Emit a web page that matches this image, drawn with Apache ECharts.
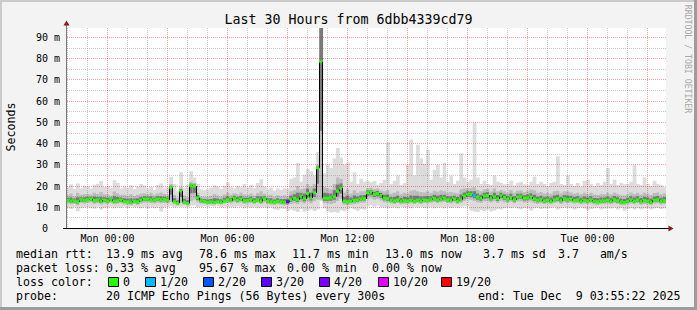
<!DOCTYPE html>
<html><head><meta charset="utf-8">
<script src="https://cdn.jsdelivr.net/npm/echarts@6/dist/echarts.min.js"></script>
<style>html,body{margin:0;padding:0;background:#f3f3f3;}#c{width:697px;height:310px;}</style>
</head><body><div id="c"></div><script>
// time axis: hours since graph start (Sun 21:55:22), 10-minute steps
const STEP_H = 1 / 6;
const medianMs = [
 13.2,12.8,13.0,12.6,13.5,13.3, 13.6,13.9,13.2,13.5,12.8,13.4,
 13.0,13.6,12.9,13.1,13.4,12.7, 12.6,12.4,12.9,12.5,13.3,13.8,
 13.9,13.6,13.4,13.8,13.5,13.7, 13.4,19.2,12.6,11.9,17.7,12.4,
 11.8,20.2,20.0,14.5,13.0,12.8, 12.4,12.5,12.3,12.6,12.4,13.0,
 13.6,13.2,14.2,13.4,13.8,13.1, 13.2,13.5,12.9,13.6,12.8,14.0,
 13.0,12.6,12.4,12.8,12.5,12.3, 12.6,13.5,14.2,13.6,15.2,14.0,
 16.5,14.4,16.8,28.6,78.6,14.2, 14.3,14.5,15.0,17.5,19.0,12.8,
 12.6,12.7,13.2,13.4,13.8,14.0, 16.8,17.2,16.0,16.5,15.6,14.2,
 14.0,13.2,13.0,13.4,12.8,13.1, 13.0,13.2,12.9,13.3,13.0,13.4,
 13.2,13.6,14.1,13.4,13.8,14.2, 13.5,13.2,13.9,13.0,13.6,15.2,
 16.2,16.0,15.6,14.8,14.2,15.3, 15.6,14.2,15.0,14.0,15.4,14.6,
 13.8,14.6,13.6,14.8,15.0,14.2, 14.4,14.8,13.9,13.2,13.6,13.0,
 13.4,12.9,13.6,14.0,13.2,14.1, 13.6,13.8,13.2,13.5,12.9,13.3,
 13.0,13.4,12.8,12.6,12.9,13.0, 13.3,12.9,13.6,13.1,12.5,12.3,
 12.8,13.4,12.9,13.5,12.7,13.2, 12.9,12.4,13.3,13.6,12.8,13.1
];
const pingMin = [
 9.8,9.2,10.1,8.1,9.5,9.9, 10.0,9.6,9.3,10.2,9.0,9.7,
 9.9,10.3,9.5,10.0,9.8,10.2, 9.7,10.4,9.9,10.1,9.6,10.0,
 9.4,10.0,9.6,9.8,8.0,9.9, 10.2,10.5,10.0,10.3,10.1,10.4,
 10.0,10.8,11.0,10.0,10.3,10.5, 10.4,10.6,10.2,10.7,10.1,10.5,
 10.3,10.0,9.8,10.5,10.1,9.6, 10.0,9.8,10.3,9.5,10.1,9.9,
 9.7,9.9,9.1,8.8,9.4,9.2, 8.2,9.0,8.4,7.8,9.2,8.0,
 8.5,9.0,8.2,9.0,13.0,9.5, 8.0,7.5,7.8,7.4,8.6,8.2,
 8.8,9.5,9.0,8.4,9.2,8.8, 10.5,11.0,10.2,10.8,10.0,9.8,
 9.5,9.8,10.0,9.6,10.2,9.9, 10.0,9.6,10.2,9.8,10.1,9.7,
 9.8,10.1,9.5,9.9,10.0,9.6, 10.2,9.7,10.0,9.8,10.3,10.5,
 10.5,8.5,8.0,7.8,8.6,8.2, 8.8,8.0,8.5,9.2,8.9,9.6,
 9.8,9.5,10.0,9.4,9.1,9.7, 9.5,8.5,9.6,9.8,9.2,9.6,
 9.4,9.8,10.0,9.0,9.6,9.8, 9.8,9.5,9.0,9.6,9.9,9.4,
 8.6,9.2,9.5,9.8,9.0,9.3, 9.6,9.4,9.8,9.0,9.5,8.4,
 9.2,9.6,8.9,9.5,9.0,9.4, 9.6,9.0,9.4,9.7,9.2,9.5
];
const pingMax = [
 19.5,20.8,18.6,21.2,19.0,20.2, 19.8,18.9,20.6,21.0,22.4,19.6,
 20.1,19.2,22.8,21.5,18.8,19.9, 19.2,20.4,18.6,19.8,21.0,20.3,
 18.8,19.6,18.2,20.5,21.2,18.9, 19.5,24.4,21.0,17.5,26.5,19.0,
 20.5,27.0,24.0,21.0,18.5,18.0, 18.5,19.2,20.4,19.8,18.6,20.1,
 21.8,19.5,18.9,20.2,19.4,21.0, 19.3,20.6,19.0,21.4,23.2,19.8,
 18.4,19.2,17.8,18.9,18.2,19.0, 18.6,23.5,24.0,31.0,22.0,25.5,
 28.0,27.0,25.0,36.0,130,26.0, 30.0,28.5,33.0,38.0,33.5,30.0,
 31.0,22.0,26.5,21.0,23.5,22.0, 22.5,21.8,22.4,20.6,21.5,23.0,
 40.5,21.0,22.5,25.0,20.5,21.5, 30.0,42.0,25.0,39.5,33.0,30.5,
 37.0,23.0,27.7,30.0,24.0,31.0, 22.0,25.0,21.0,22.5,35.5,24.0,
 22.0,23.0,50.0,24.0,21.0,22.5, 21.0,20.5,25.0,22.0,21.5,20.8,
 21.0,22.5,20.4,21.6,22.0,20.8, 20.5,22.0,24.5,21.0,22.0,21.0,
 20.0,21.5,22.0,34.0,21.0,20.5, 25.0,21.0,20.0,21.5,19.8,22.5,
 23.0,21.0,20.0,21.5,20.5,22.0, 28.5,21.0,23.0,20.5,21.5,20.8,
 21.0,22.0,30.0,21.0,20.5,24.0, 21.0,20.0,22.5,21.0,20.5,19.5
];
const pingLo = [
 11.8,11.4,11.6,11.0,12.0,11.7, 12.0,12.2,11.6,11.9,11.3,11.8,
 11.6,12.0,11.4,11.7,11.9,11.3, 11.2,11.0,11.5,11.1,11.8,12.1,
 12.2,12.0,11.8,12.1,11.9,12.0, 11.8,12.5,11.4,11.0,12.0,11.2,
 10.9,13.0,13.5,12.4,11.8,11.6, 11.3,11.4,11.2,11.5,11.3,11.8,
 12.0,11.8,12.4,11.9,12.2,11.7, 11.8,12.0,11.6,12.1,11.5,12.3,
 11.6,11.3,11.1,11.4,11.2,11.0, 11.0,11.6,11.9,11.4,12.4,11.8,
 12.6,11.9,12.8,13.5,13.5,12.0, 11.8,11.6,12.0,13.0,14.0,11.2,
 11.0,11.3,11.6,11.8,12.1,12.3, 13.8,14.2,13.6,13.9,13.2,12.4,
 12.2,11.8,11.6,11.9,11.4,11.7, 11.6,11.8,11.5,11.9,11.6,12.0,
 11.8,12.1,12.4,11.9,12.2,12.5, 12.0,11.8,12.3,11.6,12.1,13.0,
 13.8,13.4,13.0,12.4,12.0,12.8, 13.0,12.2,12.8,12.0,13.0,12.4,
 12.0,12.6,11.9,12.7,12.8,12.2, 12.4,12.7,12.0,11.6,11.9,11.5,
 11.8,11.4,12.0,12.2,11.6,12.2, 11.9,12.1,11.7,11.9,11.4,11.7,
 11.5,11.8,11.3,11.1,11.4,11.5, 11.7,11.4,11.9,11.5,11.0,10.9,
 11.3,11.8,11.4,11.9,11.2,11.6, 11.4,11.0,11.7,11.9,11.3,11.5
];
const pingHi = [
 15.8,16.5,15.2,16.8,15.9,16.2, 16.4,16.0,16.9,16.3,17.2,16.1,
 16.0,15.6,17.4,16.5,15.8,15.9, 15.4,16.2,15.3,15.9,16.4,16.6,
 16.2,16.8,15.9,16.5,17.0,16.3, 15.9,21.0,15.8,14.5,19.5,15.6,
 14.8,22.0,21.5,17.0,15.2,15.0, 15.0,15.4,16.2,15.6,15.1,16.0,
 16.8,15.9,16.6,16.2,16.9,16.0, 15.8,16.5,15.6,16.7,17.5,16.4,
 15.6,15.9,15.0,15.7,15.3,15.5, 15.2,17.5,18.0,20.0,18.5,19.0,
 21.0,19.5,21.0,30.0,130,19.5, 19.0,18.5,21.0,24.0,23.5,17.0,
 18.5,16.5,18.0,16.8,17.5,17.6, 19.0,19.2,18.6,18.8,17.9,17.5,
 18.0,16.4,16.8,17.5,16.2,16.8, 16.5,17.8,18.0,17.6,17.2,17.0,
 17.5,16.9,17.8,17.4,18.0,17.6, 16.8,17.2,16.9,16.6,18.5,18.8,
 18.8,19.0,19.5,18.2,17.6,18.5, 18.6,17.4,18.8,17.5,18.2,17.6,
 17.0,18.2,16.8,17.9,18.0,17.2, 17.6,18.4,18.0,16.8,17.2,16.5,
 16.8,16.4,17.5,17.8,16.6,17.4, 17.5,17.0,16.4,16.9,16.2,16.8,
 16.3,16.9,16.0,15.8,16.4,16.2, 16.8,16.1,17.0,16.4,15.7,15.6,
 16.2,17.0,16.3,16.9,16.0,16.8, 16.4,15.8,16.7,17.0,16.1,16.5
];
// steps with packet loss (index into the 10-minute steps, lost pings of 20)
const lossStep = [66, 122];
const lossPings = [3, 1];
const lossLevels = [0, 1, 2, 3, 4, 10, 19];
const lossColors = ['#26ff00', '#00b8ff', '#0059ff', '#5e00ff', '#7e00ff', '#dd00ff', '#ff0000'];
const lossLabels = ['0', '1/20', '2/20', '3/20', '4/20', '10/20', '19/20'];
const xTickHours = [2.0772, 8.0772, 14.0772, 20.0772, 26.0772];
const xTickLabels = ['Mon 00:00', 'Mon 06:00', 'Mon 12:00', 'Mon 18:00', 'Tue 00:00'];
const yTickValues = [0, 10, 20, 30, 40, 50, 60, 70, 80, 90];
const yTickLabels = ['0  ', '10 m', '20 m', '30 m', '40 m', '50 m', '60 m', '70 m', '80 m', '90 m'];
const HOURS = 30, Y_MAX = 94.5;

const MONO = '"DejaVu Sans Mono", monospace';
const LEG = '11.6px ' + MONO;
function lossColor(n) {
  let c = lossColors[0];
  for (let k = 0; k < lossLevels.length; k++) if (n >= lossLevels[k]) c = lossColors[k];
  return c;
}
const lossAt = medianMs.map(() => 0);
lossStep.forEach((s, k) => { lossAt[s] = lossPings[k]; });

const smokeData = medianMs.map((m, i) => [i * STEP_H, pingMin[i], pingMax[i], pingLo[i], pingHi[i], m]);
const medianData = medianMs.map((m, i) => [i * STEP_H, m, lossAt[i]]);

// grid lines: vertical every hour (22:00 ...), red every 3h; horizontal every 5 ms, red every 10
const gridData = [];
for (let k = 0; k < 30; k++) {
  const t = 0.0772 + k;
  if (t < HOURS) gridData.push([t, 0, ((k - 2) % 3 === 0) ? 1 : 0, 0]);
}
for (let v = 5; v <= 90; v += 5) gridData.push([0, v, v % 10 === 0 ? 1 : 0, 1]);

function rectBetween(api, t0, a, b, fill) {
  const p0 = api.coord([t0, b]);
  const p1 = api.coord([t0 + STEP_H, a]);
  return { type: 'rect', shape: { x: p0[0], y: p0[1], width: p1[0] - p0[0] + 0.4, height: p1[1] - p0[1] }, style: { fill: fill } };
}
function txt(x, y, s) {
  return { type: 'text', x: x, y: y, style: { text: s, font: LEG, fill: '#000', verticalAlign: 'middle' } };
}

const chart = echarts.init(document.getElementById('c'), null, { renderer: 'svg' });
chart.setOption({
  animation: false,
  backgroundColor: '#f3f3f3',
  grid: { left: 66, right: 31, top: 28, bottom: 81.5, show: true, backgroundColor: '#ffffff', borderWidth: 0 },
  xAxis: {
    type: 'value', min: 0, max: HOURS,
    axisLine: { show: false }, axisTick: { show: false }, splitLine: { show: false },
    axisLabel: {
      customValues: xTickHours,
      formatter: v => { const k = xTickHours.findIndex(h => Math.abs(h - v) < 1e-6); return k >= 0 ? xTickLabels[k] : ''; },
      fontFamily: MONO, fontSize: 10, color: '#000', margin: 5
    }
  },
  yAxis: {
    type: 'value', min: 0, max: Y_MAX, interval: 10,
    axisLine: { show: false }, axisTick: { show: false }, splitLine: { show: false },
    axisLabel: {
      showMaxLabel: false,
      formatter: v => { const k = yTickValues.indexOf(v); return k >= 0 ? yTickLabels[k] : ''; },
      fontFamily: MONO, fontSize: 10, color: '#000', margin: 6
    }
  },
  series: [
    {
      type: 'custom', name: 'smoke', clip: true, z: 1, silent: true,
      data: smokeData,
      renderItem: (params, api) => {
        const t0 = api.value(0), mn = api.value(1), mx = api.value(2), lo = api.value(3), hi = api.value(4), md = api.value(5);
        return { type: 'group', children: [
          rectBetween(api, t0, mn, mx, '#dcdcdc'),
          rectBetween(api, t0, lo, hi, '#bcbcbc'),
          rectBetween(api, t0, (lo + md) / 2, (hi + md) / 2, '#7a7a7a')
        ] };
      }
    },
    {
      type: 'custom', name: 'grid', clip: true, z: 2, silent: true,
      data: gridData,
      renderItem: (params, api) => {
        const v0 = api.value(0), v1 = api.value(1), major = api.value(2), horiz = api.value(3);
        const stroke = major ? 'rgba(235,0,0,0.38)' : 'rgba(110,110,110,0.35)';
        if (horiz) {
          const a = api.coord([0, v1]), b = api.coord([HOURS, v1]);
          const y = Math.floor(a[1]) + 0.5;
          return { type: 'line', shape: { x1: a[0] + 1, y1: y, x2: b[0], y2: y }, style: { stroke, lineWidth: 1, lineDash: [1, 1] } };
        }
        const a = api.coord([v0, 0]), b = api.coord([v0, Y_MAX]);
        const x = Math.floor(a[0]) + 0.5;
        return { type: 'line', shape: { x1: x, y1: b[1], x2: x, y2: a[1] }, style: { stroke, lineWidth: 1, lineDash: [1, 1] } };
      }
    },
    {
      type: 'custom', name: 'median', clip: true, z: 3, silent: true,
      data: medianData,
      renderItem: (params, api) => {
        const i = params.dataIndex;
        const t0 = api.value(0), m = api.value(1), loss = api.value(2);
        const p0 = api.coord([t0, m]), p1 = api.coord([t0 + STEP_H, m]);
        const children = [];
        if (i > 0) {
          const pp = api.coord([t0, medianMs[i - 1]]);
          const x = Math.floor(p0[0]) + 0.5;
          children.push({ type: 'line', shape: { x1: x, y1: pp[1], x2: x, y2: p0[1] }, style: { stroke: '#000', lineWidth: 1 } });
        }
        children.push({ type: 'rect', shape: { x: p0[0], y: p0[1] - 1.5, width: p1[0] - p0[0], height: 3 }, style: { fill: lossColor(loss) } });
        return { type: 'group', children };
      }
    }
  ],
  graphic: [
    { type: 'rect', shape: { x: 0, y: 0, width: 697, height: 2 }, style: { fill: '#cbcbcb' }, silent: true },
    { type: 'rect', shape: { x: 0, y: 0, width: 2, height: 310 }, style: { fill: '#cbcbcb' }, silent: true },
    { type: 'rect', shape: { x: 0, y: 307, width: 697, height: 3 }, style: { fill: '#9c9c9c' }, silent: true },
    { type: 'rect', shape: { x: 694, y: 0, width: 3, height: 310 }, style: { fill: '#9c9c9c' }, silent: true },
    { type: 'line', shape: { x1: 66.5, y1: 228.5, x2: 66.5, y2: 25 }, style: { stroke: '#777', lineWidth: 1 }, z: 10 },
    { type: 'line', shape: { x1: 63, y1: 228.5, x2: 669, y2: 228.5 }, style: { stroke: '#000', lineWidth: 1 }, z: 10 },
    { type: 'polygon', shape: { points: [[63.5, 25.5], [69.5, 25.5], [66.5, 20.5]] }, style: { fill: '#8b1a1a' }, z: 11 },
    { type: 'polygon', shape: { points: [[668.5, 225.5], [668.5, 231.5], [673.5, 228.5]] }, style: { fill: '#8b1a1a' }, z: 11 },
    { type: 'text', x: 348.5, y: 19, style: { text: 'Last 30 Hours from 6dbb4339cd79', font: '13.3px ' + MONO, fill: '#000', align: 'center', verticalAlign: 'middle' } },
    { type: 'text', x: 10.5, y: 127, rotation: Math.PI / 2, style: { text: 'Seconds', font: LEG, fill: '#000', align: 'center', verticalAlign: 'middle' } },
    { type: 'text', x: 688, y: 59, rotation: -Math.PI / 2, style: { text: 'RRDTOOL / TOBI OETIKER', font: '8.2px ' + MONO, fill: '#a8a8a8', align: 'center', verticalAlign: 'middle' } },
    txt(16, 254, 'median rtt:'), txt(106, 254, '13.9 ms avg'), txt(199, 254, '78.6 ms max'),
    txt(292, 254, '11.7 ms min'), txt(385, 254, '13.0 ms now'), txt(483, 254, '3.7 ms sd'),
    txt(558, 254, '3.7   am/s'),
    txt(16, 268, 'packet loss:'), txt(106, 268, '0.33 % avg'), txt(199, 268, '95.67 % max'),
    txt(287, 268, '0.00 % min'), txt(372, 268, '0.00 % now'),
    txt(16, 282, 'loss color:'),
    txt(16, 296, 'probe:'), txt(106, 296, '20 ICMP Echo Pings (56 Bytes) every 300s'),
    txt(478, 296, 'end: Tue Dec  9 03:55:22 2025')
  ].concat(lossLabels.flatMap((lab, k) => {
    const boxX = [108, 145, 203, 261, 319, 378, 441][k];
    return [
      { type: 'rect', shape: { x: boxX + 0.5, y: 277.5, width: 10, height: 9 }, style: { fill: lossColors[k], stroke: '#000', lineWidth: 1 } },
      txt(boxX + 15, 282, lab)
    ];
  }))
});
</script></body></html>
